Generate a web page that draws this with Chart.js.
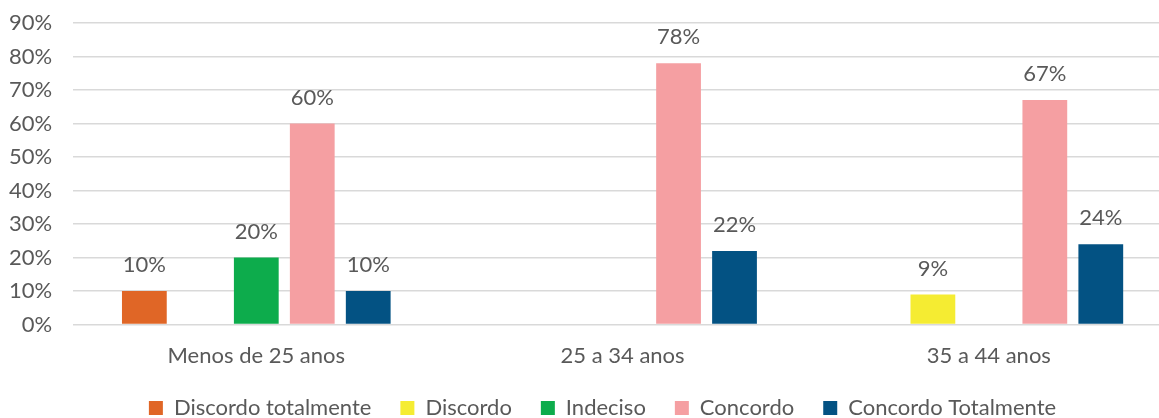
<!DOCTYPE html>
<html lang="pt">
<head>
  <meta charset="UTF-8">
  <title>Respostas por idade</title>
  <script src="https://cdn.jsdelivr.net/npm/chart.js"></script>
  <style>
    body {
      margin: 0;
      background: white;
      overflow: hidden;
    }
    /* o gráfico original é cortado à direita */
    .wrap {
      width: 1172px;
      height: 418px;
    }
  </style>
</head>
<body>
  <div class="wrap">
    <canvas id="grafico"></canvas>
  </div>

  <script>
    const categorias = ["Menos de 25 anos", "25 a 34 anos", "35 a 44 anos"];
    const discordoTotalmente = [10, null, null];
    const discordo = [null, null, 9];
    const indeciso = [20, null, null];
    const concordo = [60, 78, 67];
    const concordoTotalmente = [10, 22, 24];

    const cinza = "#595959";
    const fonte = "Lato, 'Open Sans', sans-serif";

    // rótulos em cima das barras
    const rotulos = {
      id: "rotulos",
      afterDatasetsDraw(chart) {
        const ctx = chart.ctx;
        ctx.save();
        ctx.font = "22px " + fonte;
        ctx.fillStyle = cinza;
        ctx.textAlign = "center";
        ctx.textBaseline = "bottom";
        chart.data.datasets.forEach((ds, i) => {
          const meta = chart.getDatasetMeta(i);
          meta.data.forEach((bar, j) => {
            const v = ds.data[j];
            if (v === null || v === undefined) return;
            ctx.fillText(v + "%", bar.x, bar.y - 15);
          });
        });
        ctx.restore();
      }
    };

    // legenda um pouco mais à direita e mais colada ao eixo, como no original
    const legendaDeslocada = {
      id: "legendaDeslocada",
      afterLayout(chart) {
        const lg = chart.legend;
        lg.left += 27;
        lg.width -= 27;
        lg.top -= 11;
        lg.bottom -= 11;
      }
    };

    new Chart(document.getElementById("grafico"), {
      type: "bar",
      data: {
        labels: categorias,
        datasets: [
          { label: "Discordo totalmente", data: discordoTotalmente, backgroundColor: "#e06626" },
          { label: "Discordo", data: discordo, backgroundColor: "#f5ec32" },
          { label: "Indeciso", data: indeciso, backgroundColor: "#0dac4c" },
          { label: "Concordo", data: concordo, backgroundColor: "#f59fa2" },
          { label: "Concordo Totalmente", data: concordoTotalmente, backgroundColor: "#035283" }
        ]
      },
      options: {
        responsive: true,
        maintainAspectRatio: false,
        animation: false,
        layout: { padding: { top: 23, right: 0, left: 6, bottom: -22 } },
        datasets: {
          bar: { categoryPercentage: 0.764, barPercentage: 0.8 }
        },
        scales: {
          x: {
            grid: { display: false },
            border: { color: "#d9d9d9" },
            ticks: { color: cinza, font: { family: fonte, size: 22 }, padding: 10 }
          },
          y: {
            min: 0,
            max: 90,
            ticks: {
              stepSize: 10,
              color: cinza,
              font: { family: fonte, size: 22 },
              padding: 3,
              callback: v => v + "%"
            },
            grid: { color: "#d9d9d9", lineWidth: 1.5, tickLength: 18, tickColor: "rgba(0,0,0,0)" },
            border: { display: false }
          }
        },
        plugins: {
          legend: {
            position: "bottom",
            labels: {
              color: cinza,
              font: { family: fonte, size: 22 },
              boxWidth: 14,
              boxHeight: 14,
              padding: 29
            }
          },
          tooltip: { enabled: false }
        }
      },
      plugins: [rotulos, legendaDeslocada]
    });
  </script>
</body>
</html>
